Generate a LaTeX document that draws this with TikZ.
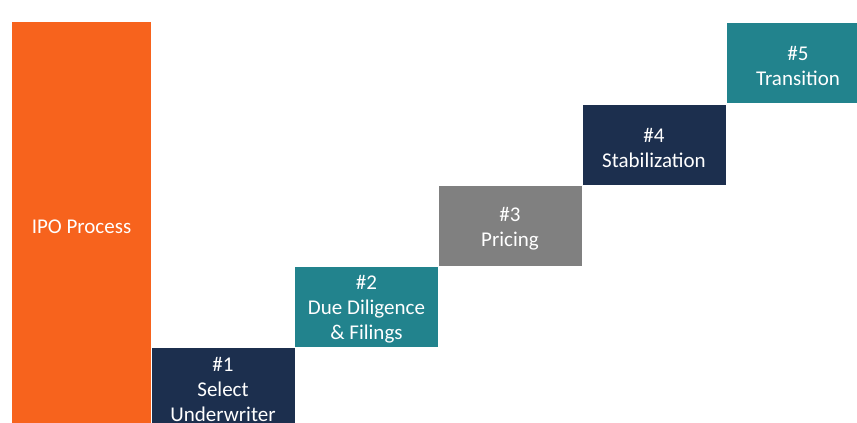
\documentclass[tikz,border=0pt]{standalone}
\usepackage{fontspec}
\setmainfont{Carlito}
\definecolor{ipoorange}{HTML}{F7631D}
\definecolor{stepnavy}{HTML}{1C2F4E}
\definecolor{stepteal}{HTML}{22838D}
\definecolor{stepgray}{HTML}{808080}
\tikzset{
  stepbox/.style={rectangle, inner sep=0pt, minimum width=144pt, minimum height=81pt,
    draw=white, line width=0.4pt},
  steptext/.style={text=white, align=center, inner sep=0pt, yshift=-3pt,
    font=\fontsize{21}{25}\selectfont},
}
\begin{document}
\begin{tikzpicture}[x=1pt, y=-1pt]
  \useasboundingbox[fill=white] (0,0) rectangle (857,423);
  % title column
  \node[stepbox, fill=ipoorange, draw=none, minimum width=139pt, minimum height=409pt,
    label={[steptext, yshift=3pt]center:IPO Process}] (ipo) at (81.5,226.5) {};
  % staircase of steps
  \node[stepbox, fill=stepnavy, label={[steptext, yshift=1.5pt]center:\#1\\Select\\Underwriter}]
    (s1) at (223,387.5) {};
  \node[stepbox, fill=stepteal, label={[steptext]center:\#2\\Due Diligence\\\& Filings}]
    (s2) at (366.5,306.5) {};
  \node[stepbox, fill=stepgray, label={[steptext]center:\#3\\Pricing}]
    (s3) at (510,225.5) {};
  \node[stepbox, fill=stepnavy, label={[steptext]center:\#4\\Stabilization}]
    (s4) at (654,144.5) {};
  \node[stepbox, fill=stepteal, label={[steptext]center:\#5\\Transition}]
    (s5) at (798,63) {};
\end{tikzpicture}
\end{document}
